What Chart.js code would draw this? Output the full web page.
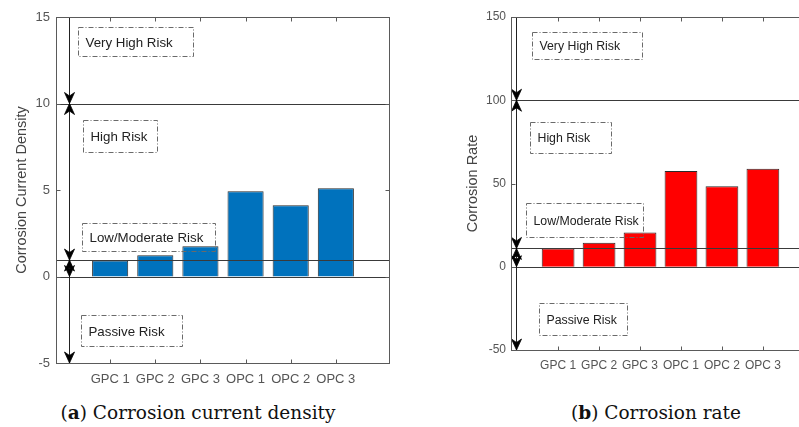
<!DOCTYPE html>
<html><head><meta charset="utf-8">
<script src="https://cdn.jsdelivr.net/npm/chart.js@4.4.1/dist/chart.umd.min.js"></script>
<style>
html,body{margin:0;padding:0;background:#fff;overflow:hidden;width:799px;height:427px;}
#wrap{position:relative;width:799px;height:427px;overflow:hidden;background:#fff}
canvas{position:absolute;top:0}
.cap{position:absolute;font-family:"DejaVu Serif",serif;font-size:18.5px;color:#111;white-space:nowrap;transform:translate(-50%,-50%);line-height:1}
</style></head><body>
<div id="wrap">
<canvas id="c1" width="400" height="400" style="left:0"></canvas>
<canvas id="c2" width="420" height="400" style="left:400px"></canvas>
<div class="cap" style="left:198px;top:413px">(<b>a</b>) Corrosion current density</div>
<div class="cap" style="left:656px;top:413px">(<b>b</b>) Corrosion rate</div>
</div>
<script>
// ---- data ----
const categories = ['GPC 1','GPC 2','GPC 3','OPC 1','OPC 2','OPC 3'];
const currentDensity = [0.93, 1.23, 1.75, 4.93, 4.12, 5.10];
const corrosionRate = [11.0, 14.4, 20.6, 57.5, 48.3, 58.9];
const densityTicks = [-5, 0, 5, 10, 15];
const rateTicks = [-50, 0, 50, 100, 150];
const densityThresholds = [10, 0.95, 0];
const rateThresholds = [100, 11, 0];
const riskLabels = ['Very High Risk', 'High Risk', 'Low/Moderate Risk', 'Passive Risk'];

// ---- annotation layout (data coordinates) ----
const densityBoxes = [
  {x0:-0.71, x1:1.84, y0:14.43, y1:12.75},
  {x0:-0.60, x1:1.04, y0:9.05, y1:7.20},
  {x0:-0.62, x1:2.32, y0:3.09, y1:1.46},
  {x0:-0.65, x1:1.59, y0:-2.24, y1:-4.04}
];
const rateBoxes = [
  {x0:-0.64, x1:2.05, y0:141.0, y1:124.7},
  {x0:-0.69, x1:1.29, y0:86.9, y1:68.3},
  {x0:-0.78, x1:2.07, y0:38.3, y1:17.8},
  {x0:-0.47, x1:1.68, y0:-21.8, y1:-41.0}
];

function makeChart(id, values, yTicks, thresholds, boxes, o) {
  const heads = [
    {y:thresholds[0], dir:1}, {y:thresholds[0], dir:-1},
    {y:thresholds[1], dir:1}, {y:thresholds[1], dir:-1},
    {y:thresholds[2], dir:1}, {y:yTicks[0], dir:1}
  ];
  const overlay = {
    id:'overlay'+id,
    afterDatasetsDraw(chart) {
      const {ctx, chartArea:a, scales:{x, y}} = chart;
      ctx.save();
      // threshold lines
      ctx.strokeStyle = '#3a3a3a'; ctx.lineWidth = 1;
      thresholds.forEach(t => {
        const py = Math.round(y.getPixelForValue(t)) + 0.5;
        ctx.beginPath(); ctx.moveTo(a.left, py); ctx.lineTo(a.right, py); ctx.stroke();
      });
      // vertical arrow line
      const ax = Math.round(x.getPixelForValue(o.arrowX)) + 0.5;
      ctx.strokeStyle = '#222';
      ctx.beginPath(); ctx.moveTo(ax, y.getPixelForValue(yTicks[yTicks.length-1])); ctx.lineTo(ax, y.getPixelForValue(yTicks[0])); ctx.stroke();
      ctx.fillStyle = '#000';
      ctx.strokeStyle = '#000';
      ctx.lineJoin = 'miter';
      heads.forEach(h => {
        const ty = y.getPixelForValue(h.y);
        const L = 11, W = 5, N = 7.5;
        ctx.beginPath();
        ctx.moveTo(ax, ty);
        ctx.lineTo(ax - W, ty - h.dir*L);
        ctx.lineTo(ax, ty - h.dir*N);
        ctx.lineTo(ax + W, ty - h.dir*L);
        ctx.closePath(); ctx.fill();
        ctx.lineWidth = 0.8; ctx.stroke();
      });
      ctx.lineWidth = 1;
      // text boxes
      ctx.strokeStyle = '#6a6a6a'; ctx.setLineDash([5,2,1,2]);
      ctx.font = o.boxFont; ctx.textBaseline = 'middle'; ctx.textAlign = 'left';
      boxes.forEach((b, i) => {
        const x0 = Math.round(x.getPixelForValue(b.x0)) + 0.5, x1 = Math.round(x.getPixelForValue(b.x1)) + 0.5;
        const y0 = Math.round(y.getPixelForValue(b.y0)) + 0.5, y1 = Math.round(y.getPixelForValue(b.y1)) + 0.5;
        ctx.strokeRect(x0, y0, x1 - x0, y1 - y0);
        ctx.fillStyle = '#222';
        ctx.fillText(riskLabels[i], x0 + 7, (y0 + y1) / 2 + 1);
      });
      ctx.setLineDash([]);
      // axes box
      ctx.strokeStyle = '#5a5a5a';
      const L0 = Math.round(a.left) + 0.5, R0 = Math.round(a.right) - 0.5, T0 = Math.round(a.top) + 0.5, B0 = Math.round(a.bottom) + 0.5;
      ctx.strokeRect(L0, T0, R0 - L0, B0 - T0);
      // inward ticks
      const tl = 4;
      ctx.beginPath();
      categories.forEach((c, i) => {
        const px = Math.round(x.getPixelForValue(i)) + 0.5;
        ctx.moveTo(px, B0); ctx.lineTo(px, B0 - tl);
        ctx.moveTo(px, T0); ctx.lineTo(px, T0 + tl);
      });
      yTicks.forEach(v => {
        const py = Math.round(y.getPixelForValue(v)) + 0.5;
        ctx.moveTo(L0, py); ctx.lineTo(L0 + tl, py);
        ctx.moveTo(R0, py); ctx.lineTo(R0 - tl, py);
      });
      ctx.stroke();
      // y title
      ctx.save();
      ctx.translate(o.titleX, (a.top + a.bottom) / 2);
      ctx.rotate(-Math.PI / 2);
      ctx.font = '14.5px "Liberation Sans", Arial, sans-serif';
      ctx.fillStyle = '#444'; ctx.textAlign = 'center'; ctx.textBaseline = 'middle';
      ctx.fillText(o.title, 0, 0);
      ctx.restore();
      ctx.restore();
    }
  };
  return new Chart(document.getElementById(id), {
    type: 'bar',
    data: {
      datasets: [{
        data: values.map((v, i) => ({x: i, y: v})),
        backgroundColor: o.color,
        borderColor: '#2a2a2a',
        borderWidth: 1,
        categoryPercentage: 1.0,
        barPercentage: 0.8
      }]
    },
    options: {
      responsive: false,
      animation: false,
      events: [],
      layout: {padding: {left: 0, top: 17, right: o.padRight, bottom: 0}},
      plugins: {legend: {display: false}, tooltip: {enabled: false}},
      scales: {
        x: {
          type: 'linear', offset: false,
          min: o.xMin, max: o.xMax,
          grid: {display: false, drawTicks: false, tickLength: 0, offset: false},
          border: {display: false},
          afterBuildTicks: s => { s.ticks = categories.map((c, i) => ({value: i})); },
          afterFit: s => { s.height = o.xAxisH; },
          ticks: {
            callback: v => categories[v],
            color: '#555', padding: o.xPad, maxRotation: 0, autoSkip: false,
            font: {family: '"Liberation Sans", Arial, sans-serif', size: o.tickSize}
          }
        },
        y: {
          type: 'linear',
          min: yTicks[0], max: yTicks[yTicks.length - 1],
          grid: {display: false, drawTicks: false, tickLength: 0},
          border: {display: false},
          afterBuildTicks: s => { s.ticks = yTicks.map(v => ({value: v})); },
          afterFit: s => { s.width = o.yAxisW; },
          ticks: {
            color: '#555', padding: o.yPad,
            font: {family: '"Liberation Sans", Arial, sans-serif', size: o.tickSize}
          }
        }
      }
    },
    plugins: [overlay]
  });
}

makeChart('c1', currentDensity, densityTicks, densityThresholds, densityBoxes, {
  color: '#0072BD', xMin: -1.2, xMax: 6.2, padRight: 10, yAxisW: 56, xAxisH: 37,
  xPad: 9, yPad: 6, tickSize: 13, arrowX: -0.91, titleX: 22,
  title: 'Corrosion Current Density', boxFont: '13.3px "Liberation Sans", Arial, sans-serif'
});
makeChart('c2', corrosionRate, rateTicks, rateThresholds, rateBoxes, {
  color: '#FF0000', xMin: -1.15, xMax: 6.15, padRight: 10, yAxisW: 111, xAxisH: 50,
  xPad: 8, yPad: 5, tickSize: 12, arrowX: -1.03, titleX: 73,
  title: 'Corrosion Rate', boxFont: '12.3px "Liberation Sans", Arial, sans-serif'
});
</script>
</body></html>
